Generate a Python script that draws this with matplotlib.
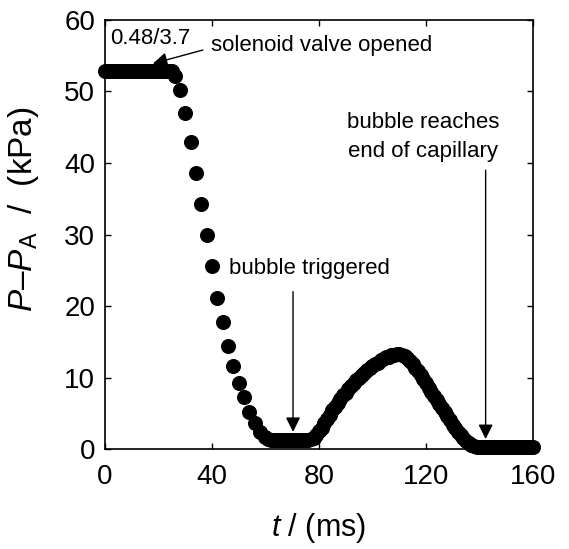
import matplotlib
matplotlib.use("Agg")
import matplotlib.pyplot as plt
import numpy as np

plt.rcParams['font.family'] = ['Liberation Sans', 'DejaVu Sans']
plt.rcParams['mathtext.fontset'] = 'custom'
plt.rcParams['mathtext.rm'] = 'Liberation Sans'
plt.rcParams['mathtext.it'] = 'Liberation Sans:italic'

# pressure trace (t in ms, P-PA in kPa)
# plateau before the valve opens
t_start = [0, 1, 2, 3, 4, 5, 6, 7, 8, 9, 10, 11, 12, 13, 14, 15, 16, 17, 18,
           19, 20, 21, 22, 23, 24, 25]
p_start = [52.9] * len(t_start)

# fast drop (sampled every 2 ms in the picture)
t_drop = [26, 28, 30, 32, 34, 36, 38, 40, 42, 44, 46, 48, 50, 52, 54, 56, 58, 60]
p_drop = [52.2, 50.2, 47.0, 42.9, 38.6, 34.3, 29.9, 25.6, 21.1, 17.7, 14.4,
          11.6, 9.2, 7.3, 5.2, 3.7, 2.4, 1.7]

# low plateau until the bubble is triggered
t_low = [61, 62, 63, 64, 65, 66, 67, 68, 69, 70, 71, 72, 73, 74, 75, 76]
p_low = [1.4, 1.3, 1.3, 1.3, 1.3, 1.3, 1.3, 1.3, 1.3, 1.3, 1.3, 1.3, 1.3,
         1.3, 1.3, 1.3]

# pressure bump while the bubble travels
t_bump = [77, 78, 79, 80, 81, 82, 83, 84, 85, 86, 87, 88, 89, 90, 91, 92, 93,
          94, 95, 96, 97, 98, 99, 100, 101, 102, 103, 104, 105, 106, 107, 108,
          109, 110, 111, 112, 113, 114, 115, 116, 117, 118, 119, 120, 121, 122,
          123, 124, 125, 126, 127, 128, 129, 130, 131, 132, 133, 134, 135, 136,
          137, 138, 139]
p_bump = [1.4, 1.6, 2.0, 2.5, 3.0, 3.6, 4.2, 4.8, 5.4, 5.9, 6.5, 7.0, 7.5,
          7.9, 8.4, 8.8, 9.2, 9.6, 10.0, 10.3, 10.7, 11.0, 11.3, 11.6, 11.9,
          12.1, 12.4, 12.6, 12.8, 12.9, 13.1, 13.2, 13.3, 13.3, 13.2, 13.0,
          12.7, 12.3, 11.9, 11.4, 10.9, 10.4, 9.8, 9.2, 8.6, 8.0, 7.4, 6.9,
          6.3, 5.8, 5.2, 4.6, 4.0, 3.4, 2.9, 2.4, 1.9, 1.5, 1.1, 0.8, 0.6,
          0.4, 0.3]

# bubble has left the capillary
t_end = [140, 141, 142, 143, 144, 145, 146, 147, 148, 149, 150, 151, 152, 153,
         154, 155, 156, 157, 158, 159, 160]
p_end = [0.3] * len(t_end)

t_ms = t_start + t_drop + t_low + t_bump + t_end
p_kpa = p_start + p_drop + p_low + p_bump + p_end

x_ticks = [0, 40, 80, 120, 160]
y_ticks = [0, 10, 20, 30, 40, 50, 60]

fig = plt.figure(figsize=(5.69, 5.49), dpi=100)
ax = fig.add_axes([0.1845, 0.1821, 0.7522, 0.7815])

ax.plot(t_ms, p_kpa, 'o', color='k', ms=9.8, clip_on=False, zorder=3)

ax.set_xlim(0, 160)
ax.set_ylim(0, 60)
ax.set_xticks(x_ticks)
ax.set_yticks(y_ticks)
ax.tick_params(direction='in', length=4, width=1, labelsize=20,
               top=True, right=True)
ax.tick_params(axis='x', pad=11)
ax.tick_params(axis='y', pad=7)
for s in ax.spines.values():
    s.set_linewidth(1.2)

ax.set_xlabel(r'$t$ / (ms)', fontsize=22, labelpad=15)
ax.set_ylabel(r'$P$–$P_\mathrm{A}$  /  (kPa)', fontsize=24)
# the label sits a little above the middle of the axis in the original
ax.yaxis.set_label_coords(-0.15, 0.56)

arrow = dict(arrowstyle='-|>', color='k', lw=1, mutation_scale=22, shrinkA=0, shrinkB=0)

ax.text(1.8, 57.4, '0.48/3.7', fontsize=16, ha='left', va='center')
ax.annotate('', xy=(17.9, 53.9), xytext=(36.6, 55.8), arrowprops=arrow)
ax.text(39.5, 56.4, 'solenoid valve opened', fontsize=16, ha='left', va='center')

ax.text(46.5, 25.3, 'bubble triggered', fontsize=16, ha='left', va='center')
ax.annotate('', xy=(70.3, 2.4), xytext=(70.3, 22.0), arrowprops=arrow)

ax.text(119.0, 43.6, 'bubble reaches\nend of capillary', fontsize=16,
        ha='center', va='center', linespacing=1.5)
ax.annotate('', xy=(142.3, 1.4), xytext=(142.3, 39.0), arrowprops=arrow)

fig.savefig('out.png', dpi=100)
